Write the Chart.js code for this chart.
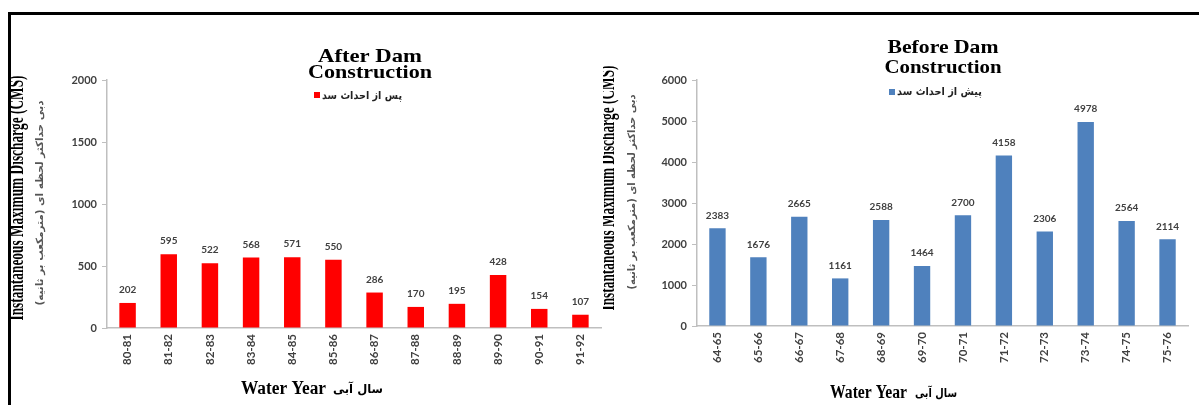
<!DOCTYPE html>
<html><head><meta charset="utf-8">
<script src="https://cdn.jsdelivr.net/npm/chart.js@4"></script>
<style>
html,body{margin:0;padding:0;background:#fff;}
#wrap{position:relative;width:1199px;height:405px;overflow:hidden;background:#fff;}
#frame{position:absolute;left:8px;top:12px;width:1199px;height:400px;border-top:3px solid #000;border-left:3px solid #000;pointer-events:none;}
#c1{position:absolute;left:11px;top:0;}
#c2{position:absolute;left:603px;top:0;}
</style></head>
<body>
<div id="wrap">
<canvas id="c1" width="600" height="405"></canvas>
<canvas id="c2" width="596" height="405"></canvas>
<div id="frame"></div>
</div>
<script>
// ---- data ----
const afterCategories = ['80-81','81-82','82-83','83-84','84-85','85-86','86-87','87-88','88-89','89-90','90-91','91-92'];
const afterValues = [202,595,522,568,571,550,286,170,195,428,154,107];
const afterTicks = [0,500,1000,1500,2000];

const beforeCategories = ['64-65','65-66','66-67','67-68','68-69','69-70','70-71','71-72','72-73','73-74','74-75','75-76'];
const beforeValues = [2383,1676,2665,1161,2588,1464,2700,4158,2306,4978,2564,2114];
const beforeTicks = [0,1000,2000,3000,4000,5000,6000];

const afterTitle = ['After Dam','Construction'];
const beforeTitle = ['Before Dam','Construction'];
const afterLegend = 'پس از احداث سد';
const beforeLegend = 'پیش از احداث سد';
const yTitleEn = 'Instantaneous Maximum Discharge (CMS)';
const yTitleFa = 'دبی حداکثر لحظه ای (مترمکعب بر ثانیه)';
const xTitleEn = 'Water Year';
const xTitleFa = 'سال آبی';

// ---- helpers ----
function fitText(ctx, text, x, y, font, color, targetW, rot, align) {
  ctx.save();
  ctx.translate(x, y);
  if (rot) ctx.rotate(-Math.PI / 2);
  ctx.font = font;
  ctx.fillStyle = color;
  ctx.textBaseline = 'middle';
  ctx.textAlign = align || 'center';
  const w = ctx.measureText(text).width;
  if (targetW && w > 0) ctx.scale(targetW / w, 1);
  ctx.fillText(text, 0, 0);
  ctx.restore();
}

const extraText = {
  id: 'extraText',
  afterDraw(chart, args, opts) {
    const ctx = chart.ctx;
    (opts.items || []).forEach(it => {
      if (it.box) {
        ctx.save(); ctx.fillStyle = it.color; ctx.fillRect(it.x, it.y, it.w, it.h); ctx.restore();
      } else {
        fitText(ctx, it.text, it.x, it.y, it.font, it.color, it.w, it.rot, it.align);
      }
    });
  }
};

const valueLabels = {
  id: 'valueLabels',
  afterDatasetsDraw(chart) {
    const ctx = chart.ctx;
    chart.data.datasets.forEach((ds, di) => {
      const meta = chart.getDatasetMeta(di);
      meta.data.forEach((el, i) => {
        ctx.save();
        ctx.font = 'bold 10px Lato';
        ctx.fillStyle = '#404040';
        ctx.textAlign = 'center';
        ctx.textBaseline = 'middle';
        ctx.fillText(String(ds.data[i]), el.x, el.y - 13);
        ctx.restore();
      });
    });
  }
};

function makeChart(id, cats, vals, ticks, color, yMax, yWidth, xHeight, padRight, extras) {
  return new Chart(document.getElementById(id), {
    type: 'bar',
    data: { labels: cats, datasets: [{ data: vals, backgroundColor: color, borderWidth: 0,
      categoryPercentage: 1, barPercentage: 0.4 }] },
    options: {
      responsive: false, animation: false, devicePixelRatio: 1,
      layout: { padding: { top: 80, right: padRight, bottom: 0, left: 0 } },
      plugins: { legend: { display: false }, title: { display: false }, tooltip: { enabled: false },
        extraText: { items: extras } },
      scales: {
        x: {
          offset: true,
          grid: { display: false, drawTicks: false },
          border: { display: true, color: '#bfbfbf', width: 1.5 },
          ticks: { minRotation: 90, maxRotation: 90, padding: 6, color: '#404040',
            font: { family: 'Lato', weight: 'bold', size: 11.5 } },
          afterFit(s) { s.height = xHeight; }
        },
        y: {
          min: 0, max: yMax,
          afterBuildTicks(s) { s.ticks = ticks.map(v => ({ value: v })); },
          grid: { display: true, drawOnChartArea: false, drawTicks: true, tickLength: 5, color: '#bfbfbf' },
          border: { display: true, color: '#bfbfbf', width: 1.5 },
          ticks: { padding: 5, color: '#404040', font: { family: 'Lato', weight: 'bold', size: 11 },
            callback: v => String(v) },
          afterFit(s) { s.width = yWidth; }
        }
      }
    },
    plugins: [extraText, valueLabels]
  });
}

const serifT = 'bold 19px "Liberation Serif"';
const serifY = 'bold 20px "Liberation Serif"';
const serifX = 'bold 18px "Liberation Serif"';
const faFont = 'bold 10px "DejaVu Sans"';
const faLeg = 'bold 11px "DejaVu Sans"';

// Left chart (canvas left = 11)
makeChart('c1', afterCategories, afterValues, afterTicks, '#ff0000', 2000, 96, 77, 10, [
  { text: afterTitle[0], x: 359, y: 57, font: serifT, color: '#000', w: 104 },
  { text: afterTitle[1], x: 359, y: 73, font: serifT, color: '#000', w: 124 },
  { box: true, x: 303, y: 92, w: 6, h: 6, color: '#ff0000' },
  { text: afterLegend, x: 311, y: 96, font: faLeg, color: '#222', w: 80, align: 'left' },
  { text: yTitleEn, x: 7, y: 198, font: serifY, color: '#000', w: 245, rot: true },
  { text: yTitleFa, x: 29, y: 203, font: faFont, color: '#555', w: 205, rot: true },
  { text: xTitleEn, x: 230, y: 389, font: serifX, color: '#000', w: 85, align: 'left' },
  { text: xTitleFa, x: 322, y: 390, font: 'bold 12px "DejaVu Sans"', color: '#000', w: 50, align: 'left' }
]);

// Right chart (canvas left = 603)
makeChart('c2', beforeCategories, beforeValues, beforeTicks, '#4f81bd', 6000, 94, 79, 11, [
  { text: beforeTitle[0], x: 340, y: 48, font: serifT, color: '#000', w: 111 },
  { text: beforeTitle[1], x: 340, y: 68, font: serifT, color: '#000', w: 117 },
  { box: true, x: 286, y: 89, w: 6, h: 6, color: '#4f81bd' },
  { text: beforeLegend, x: 294, y: 92, font: faLeg, color: '#222', w: 85, align: 'left' },
  { text: yTitleEn, x: 6, y: 188, font: serifY, color: '#000', w: 245, rot: true },
  { text: yTitleFa, x: 29, y: 192, font: faFont, color: '#555', w: 195, rot: true },
  { text: xTitleEn, x: 227, y: 393, font: serifX, color: '#000', w: 77, align: 'left' },
  { text: xTitleFa, x: 312, y: 394, font: 'bold 12px "DejaVu Sans"', color: '#000', w: 42, align: 'left' }
]);
</script>
</body></html>
